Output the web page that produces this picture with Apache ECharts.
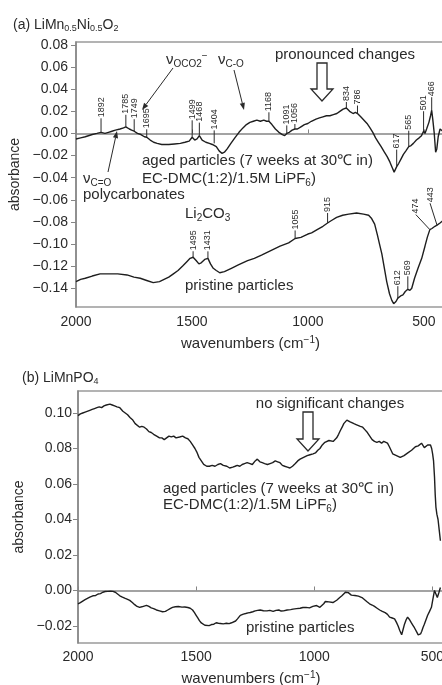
<!DOCTYPE html>
<html>
<head>
<meta charset="utf-8">
<script src="https://cdn.jsdelivr.net/npm/echarts@6/dist/echarts.min.js"></script>
<style>
  html, body { margin: 0; padding: 0; background: #fff; }
  #chart { width: 442px; height: 685px; }
</style>
</head>
<body>
<div id="chart"></div>
<script>
// ---- (a) LiMn0.5Ni0.5O2 : [wavenumber cm-1, absorbance] ----
const agedA = [
  [2000, -0.005], [1980, -0.004], [1960, -0.003], [1930, -0.001], [1910, 0.000], [1892, 0.001],
  [1875, 0.000], [1860, 0.001], [1845, 0.002], [1830, 0.003], [1810, 0.004], [1795, 0.005],
  [1785, 0.006], [1770, 0.004], [1760, 0.003], [1749, 0.002], [1735, 0.000], [1720, -0.001],
  [1705, -0.003], [1695, -0.0035], [1680, -0.006], [1665, -0.008], [1650, -0.009], [1630, -0.010],
  [1600, -0.010], [1575, -0.0095], [1550, -0.009], [1530, -0.008], [1512, -0.007], [1499, -0.0035],
  [1488, -0.006], [1478, -0.005], [1468, -0.002], [1456, -0.006], [1440, -0.008], [1425, -0.009],
  [1412, -0.010], [1404, -0.009], [1395, -0.012], [1382, -0.016], [1370, -0.018], [1360, -0.017],
  [1348, -0.014], [1332, -0.009], [1315, -0.004], [1297, 0.001], [1280, 0.005], [1265, 0.008],
  [1250, 0.010], [1235, 0.011], [1220, 0.012], [1205, 0.011], [1190, 0.012], [1178, 0.011],
  [1168, 0.011], [1155, 0.008], [1140, 0.004], [1125, 0.001], [1110, -0.001], [1100, -0.002],
  [1091, 0.000], [1080, 0.001], [1068, 0.003], [1056, 0.004], [1045, 0.004], [1030, 0.006],
  [1015, 0.008], [1000, 0.009], [985, 0.011], [965, 0.013], [950, 0.014], [935, 0.015],
  [920, 0.016], [905, 0.016], [890, 0.017], [875, 0.018], [862, 0.020], [848, 0.022],
  [834, 0.023], [820, 0.020], [805, 0.018], [795, 0.019], [786, 0.018], [772, 0.015],
  [758, 0.012], [745, 0.009], [732, 0.005], [720, 0.001], [708, -0.004], [696, -0.008],
  [684, -0.012], [670, -0.017], [658, -0.021], [646, -0.026], [636, -0.031], [628, -0.035],
  [622, -0.034], [617, -0.030], [608, -0.027], [598, -0.023], [588, -0.019], [578, -0.016],
  [565, -0.012], [555, -0.011], [545, -0.009], [532, -0.006], [520, -0.004], [510, -0.002],
  [501, 0.002], [495, 0.000], [488, 0.004], [478, 0.010], [471, 0.016], [466, 0.021],
  [461, 0.012], [455, 0.000], [449, -0.017], [444, -0.014], [438, -0.003], [430, 0.004],
  [424, 0.005], [418, 0.002]
];
const pristineA = [
  [2000, -0.134], [1980, -0.132], [1960, -0.131], [1930, -0.129], [1896, -0.127], [1860, -0.127],
  [1820, -0.127], [1780, -0.128], [1750, -0.130], [1723, -0.131], [1695, -0.133], [1667, -0.135],
  [1640, -0.134], [1620, -0.132], [1600, -0.130], [1580, -0.127], [1560, -0.124], [1540, -0.120],
  [1522, -0.116], [1508, -0.113], [1495, -0.112], [1482, -0.115], [1470, -0.118], [1460, -0.117],
  [1445, -0.114], [1431, -0.113], [1420, -0.118], [1408, -0.122], [1395, -0.124], [1380, -0.126],
  [1360, -0.125], [1330, -0.122], [1300, -0.119], [1260, -0.115], [1231, -0.113], [1200, -0.110],
  [1160, -0.106], [1120, -0.102], [1083, -0.099], [1055, -0.095], [1030, -0.094], [1000, -0.091],
  [984, -0.090], [960, -0.087], [935, -0.084], [915, -0.081], [900, -0.079], [876, -0.076],
  [850, -0.074], [824, -0.073], [790, -0.072], [760, -0.073], [738, -0.074], [725, -0.077],
  [712, -0.082], [700, -0.092], [690, -0.101], [681, -0.109], [670, -0.122], [660, -0.134],
  [648, -0.145], [638, -0.151], [630, -0.154], [620, -0.152], [612, -0.149], [600, -0.147],
  [590, -0.146], [580, -0.143], [569, -0.141], [560, -0.142], [552, -0.140], [540, -0.131],
  [525, -0.122], [509, -0.113], [495, -0.102], [485, -0.094], [474, -0.087], [465, -0.086],
  [452, -0.084], [443, -0.083], [430, -0.081], [418, -0.079]
];

// ---- (b) LiMnPO4 : [wavenumber cm-1, absorbance] ----
const agedB = [
  [2000, 0.0985], [1990, 0.0995], [1980, 0.100], [1970, 0.1005], [1962, 0.101], [1950, 0.1015],
  [1940, 0.102], [1930, 0.1025], [1920, 0.103], [1910, 0.1035], [1900, 0.103], [1890, 0.104],
  [1880, 0.1045], [1865, 0.105], [1855, 0.1045], [1845, 0.104], [1835, 0.1035], [1823, 0.103],
  [1810, 0.101], [1800, 0.100], [1790, 0.099], [1780, 0.0975], [1768, 0.096], [1758, 0.094],
  [1750, 0.093], [1739, 0.092], [1730, 0.0925], [1720, 0.092], [1710, 0.091], [1700, 0.0895],
  [1690, 0.089], [1680, 0.088], [1667, 0.087], [1655, 0.086], [1645, 0.086], [1635, 0.085],
  [1625, 0.086], [1615, 0.087], [1605, 0.0865], [1595, 0.087], [1585, 0.086], [1570, 0.0865],
  [1557, 0.087], [1545, 0.086], [1535, 0.0855], [1525, 0.084], [1515, 0.082], [1505, 0.080],
  [1497, 0.078], [1488, 0.075], [1478, 0.073], [1468, 0.071], [1455, 0.070], [1444, 0.070],
  [1432, 0.0705], [1420, 0.070], [1408, 0.071], [1397, 0.0715], [1385, 0.0705], [1370, 0.070],
  [1358, 0.069], [1345, 0.0695], [1335, 0.070], [1326, 0.0705], [1315, 0.070], [1305, 0.071],
  [1295, 0.0715], [1284, 0.072], [1272, 0.0715], [1262, 0.071], [1250, 0.073], [1241, 0.074],
  [1230, 0.0725], [1220, 0.072], [1210, 0.0715], [1198, 0.071], [1187, 0.0715], [1176, 0.072],
  [1165, 0.073], [1155, 0.0725], [1145, 0.072], [1135, 0.0705], [1125, 0.070], [1114, 0.0695],
  [1103, 0.069], [1092, 0.070], [1080, 0.0715], [1070, 0.073], [1060, 0.074], [1045, 0.075],
  [1030, 0.076], [1018, 0.0765], [1005, 0.077], [995, 0.0775], [985, 0.079], [976, 0.080],
  [966, 0.082], [955, 0.0835], [947, 0.084], [938, 0.0845], [930, 0.0835], [920, 0.084],
  [913, 0.0845], [905, 0.086], [897, 0.088], [890, 0.090], [882, 0.092], [875, 0.094],
  [868, 0.095], [862, 0.096], [855, 0.0955], [848, 0.095], [840, 0.0945], [832, 0.094],
  [823, 0.0935], [815, 0.093], [805, 0.0925], [795, 0.092], [785, 0.0905], [775, 0.089],
  [765, 0.087], [755, 0.085], [745, 0.084], [735, 0.0835], [725, 0.084], [715, 0.083],
  [706, 0.084], [698, 0.085], [690, 0.083], [682, 0.081], [675, 0.079], [668, 0.077],
  [660, 0.0775], [652, 0.076], [645, 0.0765], [636, 0.075], [628, 0.0755], [620, 0.076],
  [612, 0.077], [604, 0.0775], [597, 0.078], [588, 0.079], [580, 0.080], [572, 0.081],
  [567, 0.082], [560, 0.0815], [554, 0.081], [546, 0.083], [540, 0.082], [534, 0.0805],
  [527, 0.080], [520, 0.082], [514, 0.083], [508, 0.082], [503, 0.080], [499, 0.077],
  [495, 0.073], [491, 0.064], [488, 0.054], [485, 0.047], [481, 0.043], [476, 0.040],
  [471, 0.034], [466, 0.028]
];
const pristineB = [
  [2000, -0.0075], [1990, -0.0068], [1980, -0.006], [1970, -0.0052], [1962, -0.0046], [1950, -0.0038],
  [1937, -0.003], [1925, -0.0028], [1915, -0.002], [1905, -0.0018], [1895, -0.001], [1885, -0.0006],
  [1875, -0.0005], [1862, -0.0004], [1852, -0.0005], [1842, -0.001], [1835, -0.0015], [1823, -0.003],
  [1812, -0.0038], [1800, -0.0045], [1790, -0.005], [1781, -0.0056], [1770, -0.0068], [1760, -0.008],
  [1750, -0.009], [1739, -0.0095], [1730, -0.0092], [1720, -0.0088], [1710, -0.0084], [1700, -0.009],
  [1690, -0.0098], [1680, -0.0102], [1668, -0.011], [1655, -0.0115], [1642, -0.012], [1630, -0.0118],
  [1620, -0.011], [1610, -0.0102], [1600, -0.0095], [1588, -0.0092], [1575, -0.009], [1560, -0.0094],
  [1548, -0.0093], [1535, -0.0096], [1525, -0.010], [1515, -0.011], [1507, -0.0125], [1500, -0.014],
  [1493, -0.0155], [1486, -0.017], [1478, -0.0183], [1470, -0.019], [1463, -0.0196], [1456, -0.020],
  [1445, -0.0198], [1435, -0.0192], [1425, -0.019], [1415, -0.0182], [1406, -0.0185], [1397, -0.0186],
  [1385, -0.0188], [1372, -0.0185], [1360, -0.0187], [1350, -0.0182], [1343, -0.018], [1333, -0.0172],
  [1325, -0.016], [1318, -0.015], [1313, -0.014], [1300, -0.0133], [1290, -0.013], [1280, -0.0126],
  [1271, -0.0124], [1260, -0.012], [1250, -0.0115], [1240, -0.0112], [1229, -0.011], [1215, -0.0114],
  [1200, -0.0115], [1188, -0.0112], [1174, -0.0118], [1162, -0.0112], [1150, -0.011], [1140, -0.0116],
  [1130, -0.0115], [1122, -0.0108], [1115, -0.011], [1100, -0.0108], [1090, -0.0105], [1075, -0.0102],
  [1060, -0.010], [1048, -0.0096], [1035, -0.0095], [1027, -0.0100], [1020, -0.0098], [1012, -0.0092],
  [1006, -0.009], [998, -0.0088], [990, -0.0085], [983, -0.009], [976, -0.0095], [968, -0.0085],
  [960, -0.0075], [953, -0.0062], [947, -0.0056], [938, -0.0064], [930, -0.007], [921, -0.0068],
  [913, -0.006], [905, -0.0055], [898, -0.0048], [892, -0.004], [883, -0.003], [875, -0.002],
  [868, -0.001], [862, -0.0006], [856, -0.0012], [850, -0.002], [843, -0.0026], [837, -0.003],
  [828, -0.0028], [820, -0.0028], [813, -0.0032], [808, -0.003], [798, -0.004], [790, -0.005],
  [778, -0.0062], [766, -0.0075], [755, -0.0082], [745, -0.009], [734, -0.010], [723, -0.011],
  [712, -0.0118], [700, -0.0125], [690, -0.0135], [681, -0.015], [670, -0.0155], [660, -0.016],
  [652, -0.018], [645, -0.020], [638, -0.0225], [630, -0.025], [624, -0.022], [618, -0.019],
  [611, -0.0165], [605, -0.015], [598, -0.0162], [590, -0.018], [583, -0.0195], [576, -0.021],
  [566, -0.0235], [560, -0.025], [555, -0.026], [550, -0.0245], [545, -0.023], [540, -0.021],
  [534, -0.019], [527, -0.0165], [520, -0.014], [512, -0.0118], [504, -0.0095], [498, -0.005],
  [491, 0.000], [485, -0.002], [479, -0.004], [472, -0.001], [466, 0.0017]
];

// peak annotations: [wavenumber, leader length (px), leader horizontal offset (px)]
const peaksAgedA = [
  [1892, 14, 0], [1785, 12, 0], [1749, 12, 0], [1695, 8, 0], [1499, 17, 0], [1468, 13, 0],
  [1404, 13, 0], [1168, 9, 0], [1091, 8, 0], [1056, 5, 0], [834, 6, 0], [786, 8, 0],
  [617, 17, 0], [565, 16, 0], [501, 20, 0], [466, 13, 0]
];
const peaksPristineA = [
  [1495, 6, 0], [1431, 7, 0], [1055, 8, 0], [915, 10, 0], [612, 12, 0], [569, 13, 0],
  [474, 15, -14], [443, 22, -7]
];

// axis ticks
const xTicks = [2000, 1500, 1000, 500];
const yTicksA = [-0.14, -0.12, -0.10, -0.08, -0.06, -0.04, -0.02, 0.00, 0.02, 0.04, 0.06, 0.08];
const yTicksB = [-0.02, 0.00, 0.02, 0.04, 0.06, 0.08, 0.10];

const FONT = "'Liberation Sans', Arial, Helvetica, sans-serif";
const INK = '#2a2a2a';
const AXIS = '#858585';

// absorbance of a spectrum at a given wavenumber (linear between samples)
function valueAt(series, wn) {
  for (let i = 0; i < series.length - 1; i++) {
    const [x0, y0] = series[i], [x1, y1] = series[i + 1];
    if ((wn <= x0 && wn >= x1) || (wn >= x0 && wn <= x1)) {
      return x0 === x1 ? y0 : y0 + (y1 - y0) * (wn - x0) / (x1 - x0);
    }
  }
  return series[series.length - 1][1];
}

function peakData(peaks, spectrum) {
  return peaks.map(([wn, len, dx]) => [wn, valueAt(spectrum, wn), len, dx]);
}

function renderPeak(params, api) {
  const p = api.coord([api.value(0), api.value(1)]);
  const len = api.value(2);
  const dx = api.value(3);
  const top = [p[0] + dx, p[1] - len];
  return {
    type: 'group',
    children: [
      { type: 'line', shape: { x1: p[0], y1: p[1], x2: top[0], y2: top[1] },
        style: { stroke: INK, lineWidth: 1 } },
      { type: 'text', x: top[0], y: top[1] - 1, rotation: Math.PI / 2,
        style: { text: String(api.value(0)), fontSize: 9, fontFamily: FONT, fill: INK,
                 align: 'left', verticalAlign: 'middle' } }
    ]
  };
}

const fmtY = v => (v < 0 ? '\u2212' : '') + Math.abs(v).toFixed(2);

const richText = {
  m: { fontSize: 15, fontFamily: FONT, fill: INK, color: INK, lineHeight: 18 },
  s: { fontSize: 10, fontFamily: FONT, fill: INK, color: INK, lineHeight: 10, verticalAlign: 'bottom' },
  p: { fontSize: 10, fontFamily: FONT, fill: INK, color: INK, lineHeight: 10, verticalAlign: 'top' }
};
const richTitle = {
  m: { fontSize: 14, fontFamily: FONT, fill: INK, lineHeight: 17 },
  s: { fontSize: 9, fontFamily: FONT, fill: INK, lineHeight: 9, verticalAlign: 'bottom' }
};

function xAxisCfg(gridIndex, nameGap, labelMargin, shiftLeft) {
  return {
    type: 'value', gridIndex, min: 400, max: 2000, inverse: true,
    name: '{m|wavenumbers (cm}{p|\u22121}{m|)}',
    nameLocation: 'middle', nameGap,
    nameTextStyle: { rich: {
      m: { fontSize: 15, fontFamily: FONT, color: INK, lineHeight: 17 },
      p: { fontSize: 10, fontFamily: FONT, color: INK, lineHeight: 9, verticalAlign: 'top' }
    }, padding: [0, shiftLeft * 2, 0, 0] },
    axisLine: { show: true, lineStyle: { color: AXIS, width: 1.5 } },
    axisTick: { show: true, inside: true, length: 4, customValues: xTicks, lineStyle: { color: AXIS } },
    axisLabel: { customValues: xTicks, formatter: v => String(v), margin: labelMargin,
                 fontSize: 14, fontFamily: FONT, color: INK },
    splitLine: { show: false }
  };
}

function yAxisCfg(gridIndex, min, max, ticks, nameGap, labelMargin) {
  return {
    type: 'value', gridIndex, min, max,
    name: 'absorbance', nameLocation: 'middle', nameGap, nameRotate: 90,
    nameTextStyle: { fontSize: 14, fontFamily: FONT, color: INK },
    axisLine: { show: true, lineStyle: { color: AXIS, width: 1.5 } },
    axisTick: { show: true, inside: false, length: 5, customValues: ticks, lineStyle: { color: AXIS } },
    axisLabel: { customValues: ticks, formatter: fmtY, margin: labelMargin, fontSize: 14,
                 fontFamily: FONT, color: INK },
    splitLine: { show: false }
  };
}

const lineStyle = { color: '#1e1e1e', width: 1.4 };
function spectrum(data, idx, name) {
  return { type: 'line', name, data, xAxisIndex: idx, yAxisIndex: idx, showSymbol: false,
           symbol: 'none', lineStyle, silent: true, z: 3 };
}

// text, arrow and outline-arrow helpers for the graphic layer
function txt(x, y, text, opts = {}) {
  return { type: 'text', x, y, z: 10,
    style: Object.assign({ text, fontSize: 15, fontFamily: FONT, fill: INK,
      align: 'left', verticalAlign: 'middle', rich: richText }, opts) };
}
function arrow(x1, y1, x2, y2) {
  const a = Math.atan2(y2 - y1, x2 - x1), L = 7, W = 2.6;
  const bx = x2 - L * Math.cos(a), by = y2 - L * Math.sin(a);
  const nx = -Math.sin(a) * W, ny = Math.cos(a) * W;
  return [
    { type: 'line', z: 10, shape: { x1, y1, x2: bx, y2: by }, style: { stroke: INK, lineWidth: 1 } },
    { type: 'polygon', z: 10, shape: { points: [[x2, y2], [bx + nx, by + ny], [bx - nx, by - ny]] },
      style: { fill: INK } }
  ];
}
function hollowArrow(cx, top, shaftBottom, tip) {
  const s = 5, h = 11;
  return { type: 'polygon', z: 10,
    shape: { points: [[cx - s, top], [cx + s, top], [cx + s, shaftBottom], [cx + h, shaftBottom],
                      [cx, tip], [cx - h, shaftBottom], [cx - s, shaftBottom]] },
    style: { fill: '#fff', stroke: INK, lineWidth: 1.3 } };
}

const chart = echarts.init(document.getElementById('chart'), null, { renderer: 'canvas' });

chart.setOption({
  animation: false,
  backgroundColor: '#fff',
  grid: [
    { left: 76, top: 42, width: 371, height: 265, show: true, borderColor: '#9a9a9a', borderWidth: 1.5,
      containLabel: false, outerBoundsMode: 'none' },
    { left: 78, top: 391, width: 378, height: 252, show: true, borderColor: '#9a9a9a', borderWidth: 1.5,
      containLabel: false, outerBoundsMode: 'none' }
  ],
  xAxis: [xAxisCfg(0, 28, 8, 11), xAxisCfg(1, 27, 7, 16)],
  yAxis: [
    yAxisCfg(0, -0.157, 0.0827, yTicksA, 54, 8),
    yAxisCfg(1, -0.0296, 0.1124, yTicksB, 43, 6)
  ],
  series: [
    spectrum(agedA, 0, 'aged (a)'),
    spectrum(pristineA, 0, 'pristine (a)'),
    spectrum(agedB, 1, 'aged (b)'),
    spectrum(pristineB, 1, 'pristine (b)'),
    { type: 'custom', xAxisIndex: 0, yAxisIndex: 0, renderItem: renderPeak, silent: true, z: 4,
      data: peakData(peaksAgedA, agedA) },
    { type: 'custom', xAxisIndex: 0, yAxisIndex: 0, renderItem: renderPeak, silent: true, z: 4,
      data: peakData(peaksPristineA, pristineA) }
  ],
  graphic: [
    // panel (a)
    { type: 'text', x: 13, y: 25, z: 10, style: { text: '{m|(a) LiMn}{s|0.5}{m|Ni}{s|0.5}{m|O}{s|2}',
      rich: richTitle, verticalAlign: 'middle', align: 'left' } },
    txt(166, 60, '{m|\u03bd}{s|OCO}{s|2}{p|\u2212}'),
    ...arrow(173, 68, 142, 110),
    txt(218, 60, '{m|\u03bd}{s|C-O}'),
    ...arrow(234, 70, 244, 110),
    txt(345, 55, 'pronounced changes', { align: 'center' }),
    hollowArrow(322, 63, 89, 101),
    txt(83, 179, '{m|\u03bd}{s|C=O}'),
    txt(83, 195, 'polycarbonates'),
    ...arrow(108, 172, 117, 131),
    txt(142, 161, 'aged particles (7 weeks at 30\u2103 in)'),
    txt(142, 179, '{m|EC-DMC(1:2)/1.5M LiPF}{s|6}{m|)}'),
    txt(185, 214, '{m|Li}{s|2}{m|CO}{s|3}'),
    txt(185, 286, 'pristine particles'),
    // panel (b)
    { type: 'text', x: 22, y: 378, z: 10, style: { text: '{m|(b) LiMnPO}{s|4}',
      rich: richTitle, verticalAlign: 'middle', align: 'left' } },
    txt(330, 404, 'no significant changes', { align: 'center' }),
    hollowArrow(308, 412, 439, 451),
    txt(163, 489, 'aged particles (7 weeks at 30\u2103 in)'),
    txt(163, 505, '{m|EC-DMC(1:2)/1.5M LiPF}{s|6}{m|)}'),
    txt(246, 628, 'pristine particles')
  ]
});
</script>
</body>
</html>
